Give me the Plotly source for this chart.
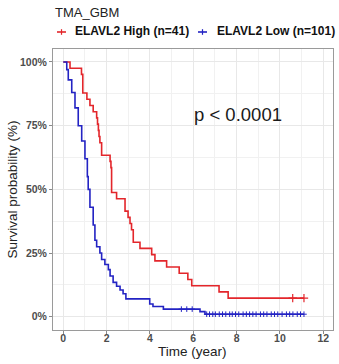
import plotly.graph_objects as go

# ---------------- data ----------------
red_name = "ELAVL2 High (n=41)"
blue_name = "ELAVL2 Low (n=101)"
red_n = 41
blue_n = 101

red_time = [0, 0.31, 0.84, 0.90, 1.09, 1.23, 1.38, 1.54, 1.58, 1.62, 1.65, 1.69, 1.77,
            2.16, 2.20, 2.23, 2.46, 2.85, 2.99, 3.08, 3.15, 3.23, 3.54, 4.08, 4.23,
            4.77, 5.35, 5.75, 5.93, 7.19, 7.61, 11.11]
red_alive = [41, 40, 39, 36, 35, 34, 33, 32, 31, 30, 29, 28, 26,
             25, 24, 20, 19, 17, 16, 15, 14, 12, 11, 10, 9,
             8, 7, 6, 5, 4, 3, 3]
red_censor_time = [10.59, 11.11]

blue_time = [0, 0.16, 0.23, 0.39, 0.54, 0.69, 0.85, 1.00, 1.11, 1.15, 1.23, 1.38, 1.46,
             1.54, 1.69, 1.77, 1.92, 2.08, 2.16, 2.30, 2.46, 2.62, 2.76, 2.89, 3.99,
             4.14, 4.62, 6.31, 6.54, 11.11]
blue_pct = [100, 97, 93, 88, 82, 75, 69, 62, 55, 50, 43, 36, 30,
            27.5, 25, 22.5, 20.5, 18.5, 16, 13.5, 12, 10.5, 9, 7, 5,
            4, 3, 2, 1, 1]
blue_censor_time = [5.45, 5.7, 5.95, 6.62, 6.75, 6.9, 7.02, 7.2, 7.35, 7.5, 7.68, 7.8,
                    7.95, 8.1, 8.3, 8.45, 8.6, 8.75, 8.9, 9.1, 9.25, 9.4, 9.6, 9.75,
                    9.9, 10.1, 10.3, 10.45, 10.6, 10.8, 10.95, 11.11]

x_ticks = [0, 2, 4, 6, 8, 10, 12]
y_ticks = [0, 0.25, 0.5, 0.75, 1.0]
p_text = "p < 0.0001"
title_text = "TMA_GBM"

# ---------------- styling ----------------
RED = "#E3262B"
BLUE = "#2323C3"
FONT = "Liberation Sans, Arial, sans-serif"

red_surv = [a / red_n for a in red_alive]
blue_surv = [p / 100 for p in blue_pct]


def level_at(times, surv, t):
    s = surv[0]
    for ti, si in zip(times, surv):
        if ti <= t:
            s = si
    return s


fig = go.Figure()
fig.add_trace(go.Scatter(x=red_time, y=red_surv, mode="lines", line_shape="hv",
                         line=dict(color=RED, width=1.6), name=red_name, showlegend=False))
fig.add_trace(go.Scatter(x=blue_time, y=blue_surv, mode="lines", line_shape="hv",
                         line=dict(color=BLUE, width=1.6), name=blue_name, showlegend=False))
fig.add_trace(go.Scatter(x=red_censor_time,
                         y=[level_at(red_time, red_surv, t) for t in red_censor_time],
                         mode="markers", showlegend=False,
                         marker=dict(symbol="cross-thin", size=6, line=dict(width=1.2, color=RED))))
fig.add_trace(go.Scatter(x=blue_censor_time,
                         y=[level_at(blue_time, blue_surv, t) for t in blue_censor_time],
                         mode="markers", showlegend=False,
                         marker=dict(symbol="cross-thin", size=4, line=dict(width=1, color=BLUE))))

tickfont = dict(family=FONT, size=10.5, color="#4D4D4D", weight="bold")

fig.update_layout(
    width=339, height=364,
    margin=dict(l=53, r=6, t=49, b=34),
    paper_bgcolor="white", plot_bgcolor="white",
    font=dict(family=FONT),
    showlegend=False,
    xaxis=dict(range=[-0.475, 12.45], tickvals=x_ticks, ticks="outside", ticklen=3,
               tickcolor="#8A8A8A", tickwidth=1, tickfont=tickfont, ticklabelstandoff=-5,
               showgrid=True, gridcolor="#E8E8E8", gridwidth=1, zeroline=False,
               minor=dict(tick0=0, dtick=1, showgrid=True, gridcolor="#F1F1F1", gridwidth=0.8),
               showline=True, mirror=True, linecolor="#9A9A9A", linewidth=1),
    yaxis=dict(range=[-0.052, 1.051], tickvals=y_ticks, tickformat=".0%", ticks="outside",
               ticklen=3, tickcolor="#8A8A8A", tickwidth=1, tickfont=tickfont,
               showgrid=True, gridcolor="#E8E8E8", gridwidth=1, zeroline=False,
               minor=dict(tick0=0, dtick=0.125, showgrid=True, gridcolor="#F1F1F1", gridwidth=0.8),
               showline=True, mirror=True, linecolor="#9A9A9A", linewidth=1),
)

ann = []
ann.append(dict(text=title_text, x=0.0, y=1.1295, xref="paper", yref="paper",
                xanchor="left", yanchor="middle", showarrow=False,
                font=dict(family=FONT, size=13, color="#222222")))
ann.append(dict(text=red_name, x=0.0732, y=1.0623, xref="paper", yref="paper",
                xanchor="left", yanchor="middle", showarrow=False,
                font=dict(family=FONT, size=12, color="#111111", weight="bold")))
ann.append(dict(text=blue_name, x=0.5771, y=1.0623, xref="paper", yref="paper",
                xanchor="left", yanchor="middle", showarrow=False,
                font=dict(family=FONT, size=12, color="#111111", weight="bold")))
ann.append(dict(text="Time (year)", x=0.498, y=-0.078, xref="paper", yref="paper",
                xanchor="center", yanchor="middle", showarrow=False,
                font=dict(family=FONT, size=13.5, color="#222222")))
ann.append(dict(text="Survival probability (%)", x=-0.146, y=0.5, xref="paper", yref="paper",
                xanchor="center", yanchor="middle", showarrow=False, textangle=-90,
                font=dict(family=FONT, size=13.5, color="#222222")))
ann.append(dict(text=p_text, x=8.08, y=0.792, xref="x", yref="y",
                xanchor="center", yanchor="middle", showarrow=False,
                font=dict(family=FONT, size=18.5, color="#1A1A1A")))
fig.update_layout(annotations=ann)

# legend keys (line with cross)
shapes = []
for (x0, x1, xm, col) in [(0.0143, 0.0464, 0.0304, RED), (0.5179, 0.55, 0.5339, BLUE)]:
    shapes.append(dict(type="line", xref="paper", yref="paper", x0=x0, x1=x1,
                       y0=1.0605, y1=1.0605, line=dict(color=col, width=1.6)))
    shapes.append(dict(type="line", xref="paper", yref="paper", x0=xm, x1=xm,
                       y0=1.0505, y1=1.0705, line=dict(color=col, width=1.2)))
fig.update_layout(shapes=shapes)

fig.write_html("out.html")
